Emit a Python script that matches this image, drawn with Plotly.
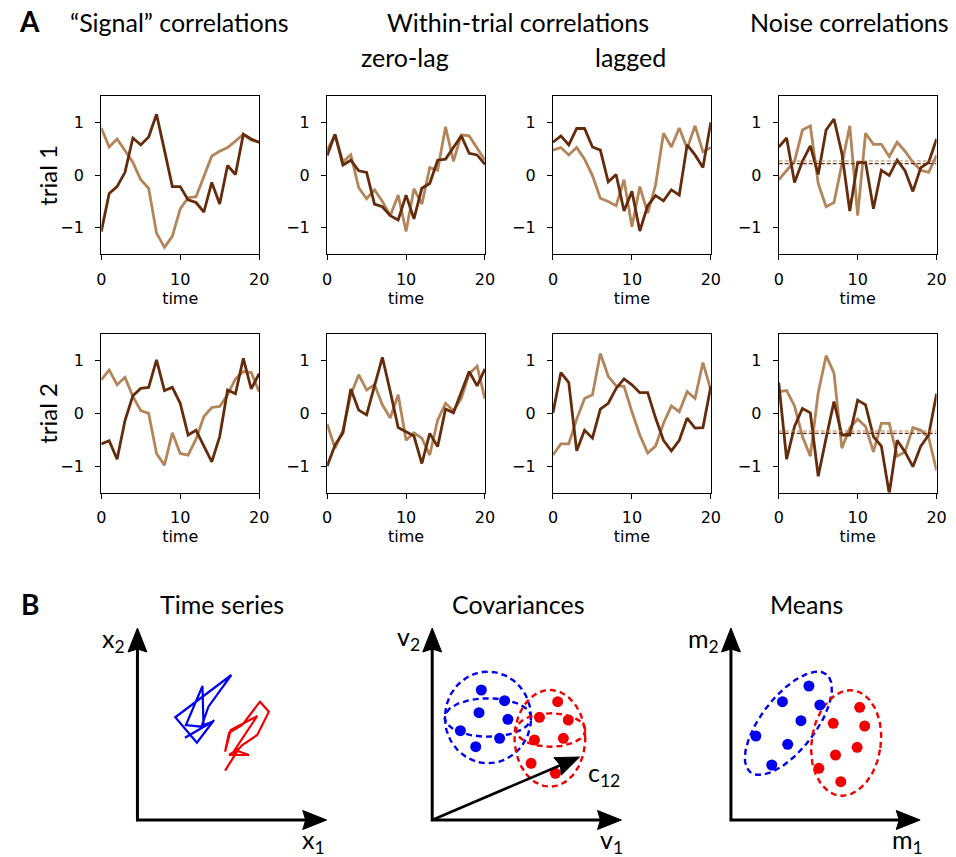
import numpy as np
import plotly.graph_objects as go

W, H = 956, 857          # reference geometry used for all placements
FIG_W = 967              # rendered width (compensates the horizontal squeeze seen in the photo)
t = list(range(21))

# ---------------- Panel A data ----------------
signal_t1_dark = [-1.07, -0.35, -0.22, 0.05, 0.70, 0.57, 0.72, 1.15, 0.47, -0.22, -0.22,
                  -0.47, -0.52, -0.70, -0.14, -0.55, 0.18, 0.01, 0.77, 0.68, 0.62]
signal_t1_light = [0.89, 0.53, 0.68, 0.47, 0.24, -0.09, -0.25, -1.10, -1.37, -1.16, -0.64,
                   -0.43, -0.41, -0.03, 0.36, 0.45, 0.52, 0.64, 0.77, 0.66, 0.62]
zerolag_t1_dark = [0.37, 0.77, 0.19, 0.28, 0.08, 0.05, -0.55, -0.60, -0.77, -0.85, -0.38,
                   -0.83, -0.25, -0.16, 0.28, 0.30, 0.52, 0.74, 0.41, 0.38, 0.20]
zerolag_t1_light = [0.47, 0.76, 0.25, 0.38, -0.24, -0.45, -0.28, -0.50, -0.77, -0.38, -1.07,
                    -0.26, -0.55, 0.14, 0.09, 0.91, 0.26, 0.76, 0.74, 0.50, 0.28]
lagged_t1_dark = [0.62, 0.74, 0.57, 0.88, 0.88, 0.53, 0.47, -0.13, 0.01, -0.68, -0.31,
                  -1.06, -0.58, -0.39, -0.49, -0.28, -0.38, 0.57, 0.38, 0.14, 1.00]
lagged_t1_light = [0.47, 0.52, 0.38, 0.52, 0.30, -0.01, -0.44, -0.50, -0.58, -0.09, -0.98,
                   -0.22, -0.72, -0.19, 0.79, 0.53, 0.89, 0.50, 0.93, 0.44, 0.52]
noise_t1_dark = [0.53, 0.70, -0.14, 0.26, 0.55, 0.01, 0.85, 1.06, 0.41, -0.68, 0.24,
                 0.24, -0.64, 0.09, -0.01, 0.28, 0.08, -0.31, 0.14, 0.24, 0.68]
noise_t1_light = [-0.09, 0.08, 0.26, 0.85, 0.93, -0.16, -0.60, -0.52, 0.19, 0.93, -0.77,
                  0.79, 0.58, 0.58, 0.35, 0.62, 0.45, 0.24, 0.09, 0.05, 0.37]

signal_t2_dark = [-0.58, -0.52, -0.87, -0.14, 0.33, 0.47, 0.49, 1.01, 0.43, 0.49, 0.19,
                  -0.41, -0.32, -0.62, -0.92, -0.44, 0.44, 0.37, 1.04, 0.46, 0.75]
signal_t2_light = [0.63, 0.82, 0.54, 0.68, 0.32, 0.05, 0.00, -0.76, -0.98, -0.37, -0.76,
                   -0.79, -0.49, -0.06, 0.11, 0.13, 0.35, 0.65, 0.79, 0.77, 0.41]
zerolag_t2_dark = [-1.00, -0.60, -0.37, 0.46, 0.06, -0.03, 0.52, 1.06, 0.41, -0.27, -0.35,
                   -0.43, -0.95, -0.38, -0.63, 0.08, 0.01, 0.39, 0.79, 0.52, 0.84]
zerolag_t2_light = [-0.20, -0.66, -0.32, 0.35, 0.73, 0.44, 0.54, 0.16, -0.09, 0.35, -0.51,
                    -0.37, -0.47, -0.79, -0.13, 0.19, 0.05, 0.28, 0.75, 0.89, 0.27]
lagged_t2_dark = [0.01, 0.77, 0.58, -0.71, -0.32, -0.47, 0.08, 0.19, 0.47, 0.65, 0.54,
                  0.39, 0.39, -0.09, -0.51, -0.71, -0.51, -0.09, -0.28, -0.27, 0.51]
lagged_t2_light = [-0.79, -0.58, -0.58, -0.11, 0.28, 0.35, 1.13, 0.70, 0.52, 0.51, 0.03,
                   -0.41, -0.75, -0.62, -0.19, 0.14, 0.03, 0.41, 0.28, 0.96, 0.44]
noise_t2_dark = [0.58, -0.87, -0.25, 0.09, 0.01, -1.19, -0.47, 0.22, -0.41, -0.41, 0.25,
                 0.16, -0.44, -0.62, -1.52, -0.51, -0.73, -1.01, -0.62, -0.41, 0.37]
noise_t2_light = [0.41, 0.43, 0.14, -0.44, -0.81, 0.39, 1.09, 0.76, -0.66, -0.28, -0.11,
                  -0.25, -0.73, -0.19, -0.19, -0.81, -0.73, -0.27, -0.32, -0.46, -1.08]

noise_mean_light = [0.265, -0.335]   # trial 1, trial 2
noise_mean_dark = [0.215, -0.38]

x_ticks = [0, 10, 20]
y_ticks = [-1, 0, 1]
column_titles = ['\u201cSignal\u201d correlations', 'Within-trial correlations', 'Noise correlations']
sub_titles = ['zero-lag', 'lagged']
row_labels = ['trial 1', 'trial 2']

# ---------------- Panel B data (schematic, units relative to axis origin) ----------------
ts_blue_x = [47.7, 75.3, 66.3, 65.3, 48.7, 64.3, 71.3, 94.3, 38.0, 59.7, 77.0]
ts_blue_y = [82.3, 98.3, 95.0, 134.0, 95.0, 93.3, 113.3, 145.0, 102.7, 77.3, 100.0]
ts_red_x = [88.0, 102.0, 92.0, 112.0, 97.7, 120.3, 93.7, 88.0, 92.0, 105.3, 123.0, 132.0, 120.3, 105.3, 97.0]
ts_red_y = [49.3, 71.7, 65.0, 65.0, 70.0, 104.0, 90.0, 68.3, 87.3, 95.0, 118.3, 108.3, 85.0, 75.0, 66.0]

cov_blue_x = [49.3, 72.7, 47.0, 76.0, 28.3, 67.7, 43.7]
cov_blue_y = [130.0, 119.3, 107.3, 100.7, 89.3, 81.7, 73.3]
cov_red_x = [126.0, 107.7, 136.7, 102.7, 131.7, 99.3, 123.7]
cov_red_y = [118.3, 102.7, 100.0, 80.0, 81.7, 56.7, 46.7]
c12_vec = [148.0, 63.0]

mean_blue_x = [78.3, 51.7, 89.3, 70.3, 25.0, 57.0, 41.0]
mean_blue_y = [134.0, 118.3, 115.0, 99.3, 84.0, 75.7, 55.0]
mean_red_x = [129.3, 102.7, 134.3, 126.7, 105.0, 88.3, 110.3]
mean_red_y = [112.7, 96.7, 94.0, 72.7, 65.0, 51.7, 38.3]

# ellipses: (cx, cy, rx, ry, angle_deg)
cov_blue_ell = [(56.0, 102.5, 43.3, 45.8, 0), (56.0, 102.5, 43.3, 19.2, 0)]
cov_red_ell = [(118.2, 81.7, 35.5, 48.3, 0), (119.0, 90.0, 34.7, 16.7, 0)]
mean_blue_ell = [(57.7, 96.7, 62.0, 27.0, 52)]
mean_red_ell = [(115.7, 77.0, 34.7, 53.0, -8)]

DARK = '#652c0c'
LIGHT = '#b3855b'
BLUE = '#0000f0'
RED = '#f00000'
TITLE_FONT = 'Lato'
TICK_FONT = 'DejaVu Sans'

fig = go.Figure()
layout = dict(width=FIG_W, height=H, autosize=False, margin=dict(l=0, r=0, t=0, b=0),
              paper_bgcolor='white', plot_bgcolor='white', showlegend=False)

series = [
    [(signal_t1_light, signal_t1_dark), (zerolag_t1_light, zerolag_t1_dark),
     (lagged_t1_light, lagged_t1_dark), (noise_t1_light, noise_t1_dark)],
    [(signal_t2_light, signal_t2_dark), (zerolag_t2_light, zerolag_t2_dark),
     (lagged_t2_light, lagged_t2_dark), (noise_t2_light, noise_t2_dark)],
]

col_left = [96.7, 323.5, 550.3, 777.0]
col_w = 158.5
row_top = [95.7, 334.0]
row_h = 158.6

def aname(i):
    return '' if i == 1 else str(i)

for r in range(2):
    for c in range(4):
        i = r * 4 + c + 1
        xa, ya = 'x' + aname(i), 'y' + aname(i)
        light, dark = series[r][c]
        fig.add_trace(go.Scatter(x=t, y=light, mode='lines', line=dict(color=LIGHT, width=2.8),
                                 xaxis=xa, yaxis=ya, hoverinfo='skip'))
        fig.add_trace(go.Scatter(x=t, y=dark, mode='lines', line=dict(color=DARK, width=2.8),
                                 xaxis=xa, yaxis=ya, hoverinfo='skip'))
        if c == 3:
            fig.add_trace(go.Scatter(x=[t[0], t[-1]], y=[noise_mean_light[r]] * 2, mode='lines',
                                     line=dict(color=LIGHT, width=1.1, dash='4px,2px'),
                                     xaxis=xa, yaxis=ya, hoverinfo='skip'))
            fig.add_trace(go.Scatter(x=[t[0], t[-1]], y=[noise_mean_dark[r]] * 2, mode='lines',
                                     line=dict(color=DARK, width=1.1, dash='4px,2px'),
                                     xaxis=xa, yaxis=ya, hoverinfo='skip'))
        common = dict(showline=True, mirror=True, linecolor='black', linewidth=1.3,
                      ticks='outside', ticklen=5, tickwidth=1.2, tickcolor='black',
                      showgrid=False, zeroline=False, fixedrange=True,
                      tickfont=dict(family=TICK_FONT, size=16, color='black'))
        layout['xaxis' + aname(i)] = dict(
            domain=[col_left[c] / W, (col_left[c] + col_w) / W], anchor=ya,
            range=[0, 20], tickvals=x_ticks, ticklabelstandoff=5,
            title=dict(text='time', font=dict(family=TICK_FONT, size=16, color='black'), standoff=4),
            **common)
        layout['yaxis' + aname(i)] = dict(
            domain=[1 - (row_top[r] + row_h) / H, 1 - row_top[r] / H], anchor=xa,
            range=[-1.5, 1.5], tickvals=y_ticks, ticklabelstandoff=8, **common)

# ---------------- Panel B ----------------
corners = [(133, 820), (429, 820), (729, 820)]
axis_len = (190, 192)
LEFT, RIGHT, BOT, TOP = -45, 215, -30, 215

def ellipse(cx, cy, rx, ry, ang, n=120):
    th = np.linspace(0, 2 * np.pi, n)
    a = np.deg2rad(ang)
    x = rx * np.cos(th)
    y = ry * np.sin(th)
    return cx + x * np.cos(a) - y * np.sin(a), cy + x * np.sin(a) + y * np.cos(a)

def arrowhead(tipx, tipy, dx, dy, length=24, half=9.5):
    L = np.hypot(dx, dy)
    ux, uy = dx / L, dy / L
    px, py = -uy, ux
    bx, by = tipx - length * ux, tipy - length * uy
    return ([tipx, bx + half * px, bx + 3 * ux, bx - half * px, tipx],
            [tipy, by + half * py, by + 3 * uy, by - half * py, tipy])

def add_axes_arrows(xa, ya):
    fig.add_trace(go.Scatter(x=[0, 0, axis_len[0] - 10], y=[axis_len[1] - 10, 0, 0], mode='lines',
                             line=dict(color='black', width=3), xaxis=xa, yaxis=ya, hoverinfo='skip'))
    for (tx, ty, dx, dy) in [(0, axis_len[1], 0, 1), (axis_len[0], 0, 1, 0)]:
        hx, hy = arrowhead(tx, ty, dx, dy)
        fig.add_trace(go.Scatter(x=hx, y=hy, mode='lines', fill='toself', fillcolor='black',
                                 line=dict(color='black', width=1), xaxis=xa, yaxis=ya, hoverinfo='skip'))

for k, (cx, cy) in enumerate(corners):
    i = 9 + k
    layout['xaxis%d' % i] = dict(domain=[(cx + LEFT) / W, (cx + RIGHT) / W], range=[LEFT, RIGHT],
                                 visible=False, fixedrange=True, anchor='y%d' % i)
    layout['yaxis%d' % i] = dict(domain=[1 - (cy - BOT) / H, 1 - (cy - TOP) / H], range=[BOT, TOP],
                                 visible=False, fixedrange=True, anchor='x%d' % i)
    add_axes_arrows('x%d' % i, 'y%d' % i)

# time series trajectories
fig.add_trace(go.Scatter(x=ts_blue_x, y=ts_blue_y, mode='lines', line=dict(color=BLUE, width=2.2),
                         xaxis='x9', yaxis='y9', hoverinfo='skip'))
fig.add_trace(go.Scatter(x=ts_red_x, y=ts_red_y, mode='lines', line=dict(color=RED, width=2.2),
                         xaxis='x9', yaxis='y9', hoverinfo='skip'))

def add_ellipses(ells, color, xa, ya):
    for e in ells:
        ex, ey = ellipse(*e)
        fig.add_trace(go.Scatter(x=ex, y=ey, mode='lines',
                                 line=dict(color=color, width=2.4, dash='6px,4px'),
                                 xaxis=xa, yaxis=ya, hoverinfo='skip'))

# covariances
add_ellipses(cov_blue_ell, BLUE, 'x10', 'y10')
add_ellipses(cov_red_ell, RED, 'x10', 'y10')
fig.add_trace(go.Scatter(x=cov_blue_x, y=cov_blue_y, mode='markers', marker=dict(color=BLUE, size=11),
                         xaxis='x10', yaxis='y10', hoverinfo='skip'))
fig.add_trace(go.Scatter(x=cov_red_x, y=cov_red_y, mode='markers', marker=dict(color=RED, size=11),
                         xaxis='x10', yaxis='y10', hoverinfo='skip'))
L = np.hypot(*c12_vec)
fig.add_trace(go.Scatter(x=[0, c12_vec[0] * (1 - 12 / L)], y=[0, c12_vec[1] * (1 - 12 / L)], mode='lines',
                         line=dict(color='black', width=2.6), xaxis='x10', yaxis='y10', hoverinfo='skip'))
hx, hy = arrowhead(c12_vec[0], c12_vec[1], c12_vec[0], c12_vec[1], length=24, half=9.5)
fig.add_trace(go.Scatter(x=hx, y=hy, mode='lines', fill='toself', fillcolor='black',
                         line=dict(color='black', width=1), xaxis='x10', yaxis='y10', hoverinfo='skip'))

# means
add_ellipses(mean_blue_ell, BLUE, 'x11', 'y11')
add_ellipses(mean_red_ell, RED, 'x11', 'y11')
fig.add_trace(go.Scatter(x=mean_blue_x, y=mean_blue_y, mode='markers', marker=dict(color=BLUE, size=11),
                         xaxis='x11', yaxis='y11', hoverinfo='skip'))
fig.add_trace(go.Scatter(x=mean_red_x, y=mean_red_y, mode='markers', marker=dict(color=RED, size=11),
                         xaxis='x11', yaxis='y11', hoverinfo='skip'))

# ---------------- Text ----------------
ann = []
def ptext(text, x, y, size, bold=False, angle=0, xanchor='center', yanchor='middle', family=TITLE_FONT):
    ann.append(dict(text=('<b>%s</b>' % text) if bold else text, x=x / W, y=1 - y / H,
                    xref='paper', yref='paper', showarrow=False, xanchor=xanchor, yanchor=yanchor,
                    textangle=angle, font=dict(family=family, size=size, color='black')))

ptext('A', 25, 21, 28, bold=True)
ptext('B', 25, 604, 28, bold=True)
ptext(column_titles[0], 175, 22, 25)
ptext(column_titles[1], 515, 22, 25)
ptext(column_titles[2], 848, 22, 25)
ptext(sub_titles[0], 402, 57, 25)
ptext(sub_titles[1], 628, 57, 25)
ptext(row_labels[0], 42, 175, 24, angle=-90)
ptext(row_labels[1], 42, 413, 24, angle=-90)
ptext('Time series', 218, 604, 25)
ptext('Covariances', 516, 604, 25)
ptext('Means', 805, 604, 25)

def atext(text, x, y, ax, xanchor='center'):
    ann.append(dict(text=text, x=x, y=y, xref='x%d' % ax, yref='y%d' % ax, showarrow=False,
                    xanchor=xanchor, yanchor='middle', font=dict(family=TITLE_FONT, size=25, color='black')))

atext('x<sub>2</sub>', -10, 180, 9, xanchor='right')
atext('x<sub>1</sub>', 177, -21, 9)
atext('v<sub>2</sub>', -10, 182, 10, xanchor='right')
atext('v<sub>1</sub>', 180, -21, 10)
atext('c<sub>12</sub>', 154, 46, 10, xanchor='left')
atext('m<sub>2</sub>', -10, 180, 11, xanchor='right')
atext('m<sub>1</sub>', 177, -21, 11)

layout['annotations'] = ann
fig.update_layout(**layout)
fig.write_html(
    'out.html',
    config={'displayModeBar': False, 'responsive': False},
    post_script=(
        "document.documentElement.style.margin='0px';"
        "document.body.style.margin='0px';"
        "document.body.style.overflow='hidden';"
    ),
)
